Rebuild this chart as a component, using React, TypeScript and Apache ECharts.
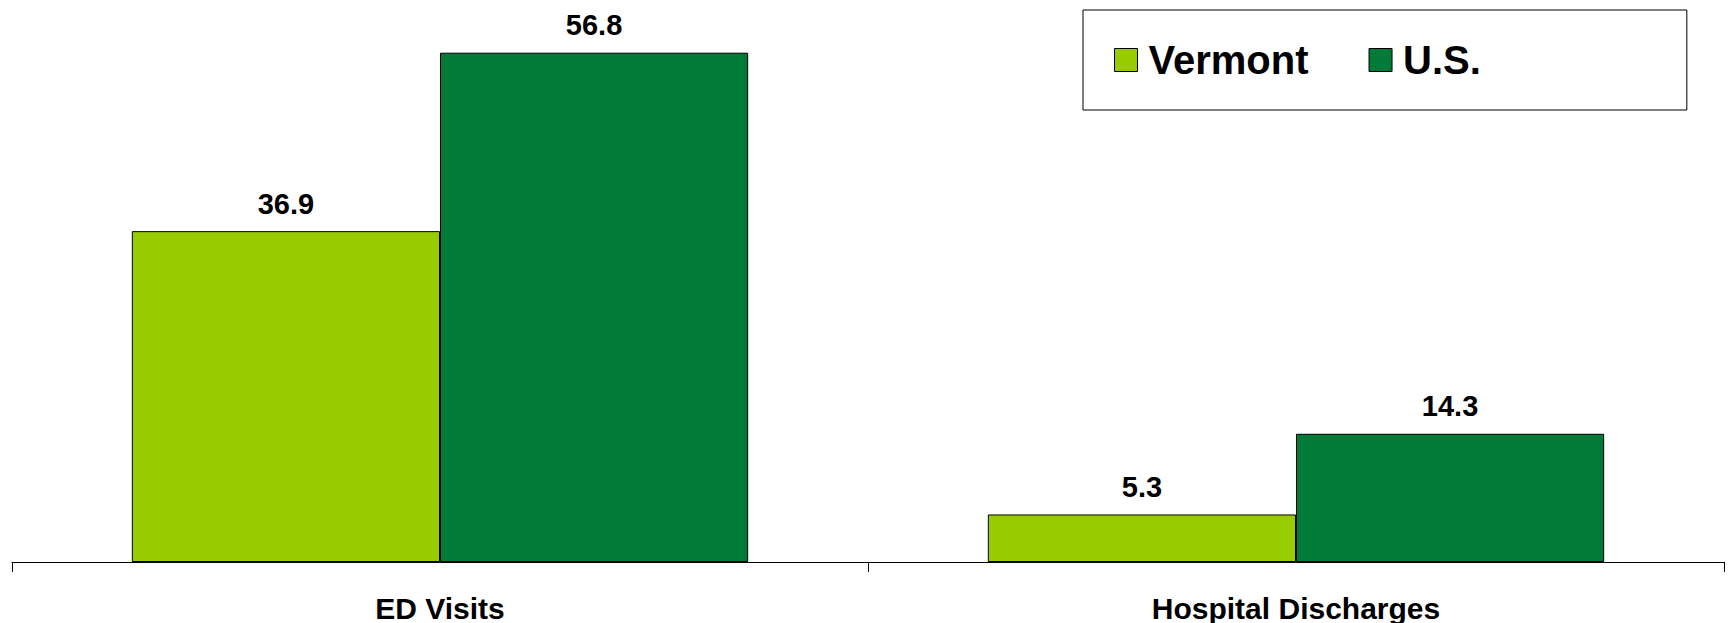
import React, { useEffect, useRef } from "react";
import * as echarts from "echarts";

const categories = ["ED Visits", "Hospital Discharges"];
const vermontValues = [36.9, 5.3];
const usValues = [56.8, 14.3];
const seriesNames = ["Vermont", "U.S."];

const FONT = "Arial, 'Liberation Sans', Helvetica, sans-serif";

export default function App() {
  const ref = useRef<HTMLDivElement>(null);
  useEffect(() => {
    if (!ref.current) return;
    const chart = echarts.init(ref.current, undefined, { renderer: "svg" });
    const label = {
      show: true,
      position: "top",
      distance: 13,
      color: "#000",
      fontFamily: FONT,
      fontWeight: "bold",
      fontSize: 29,
    };
    chart.setOption({
      animation: false,
      backgroundColor: "#fff",
      grid: { left: 12, right: 5, top: 24, bottom: 61, containLabel: false },
      legend: {
        data: seriesNames,
        left: 1083,
        top: 10,
        orient: "horizontal",
        icon: "rect",
        itemWidth: 23,
        itemHeight: 23,
        itemGap: 60,
        padding: [30, 206, 30, 31],
        borderColor: "#000",
        borderWidth: 1,
        backgroundColor: "#fff",
        itemStyle: { borderColor: "#000", borderWidth: 1 },
        textStyle: {
          color: "#000",
          fontFamily: FONT,
          fontWeight: "bold",
          fontSize: 40,
          lineHeight: 40,
          padding: [0, 0, 0, 6],
        },
      },
      xAxis: {
        type: "category",
        data: categories,
        axisLine: { show: true, lineStyle: { color: "#000", width: 1 } },
        axisTick: { show: true, length: 10, lineStyle: { color: "#000" } },
        axisLabel: {
          interval: 0,
          margin: 31,
          color: "#000",
          fontFamily: FONT,
          fontWeight: "bold",
          fontSize: 30,
        },
      },
      yAxis: {
        type: "value",
        min: 0,
        max: 60,
        show: false,
        splitLine: { show: false },
      },
      series: [
        {
          name: seriesNames[0],
          type: "bar",
          data: vermontValues,
          barGap: "0%",
          barCategoryGap: "28%",
          itemStyle: { color: "#99CC00", borderColor: "#000", borderWidth: 1 },
          label,
        },
        {
          name: seriesNames[1],
          type: "bar",
          data: usValues,
          barGap: "0%",
          barCategoryGap: "28%",
          itemStyle: { color: "#007A37", borderColor: "#000", borderWidth: 1 },
          label,
        },
      ],
    });
    return () => chart.dispose();
  }, []);
  return (
    <div
      ref={ref}
      style={{ position: "fixed", left: 0, top: 0, width: 1729, height: 623 }}
    />
  );
}
